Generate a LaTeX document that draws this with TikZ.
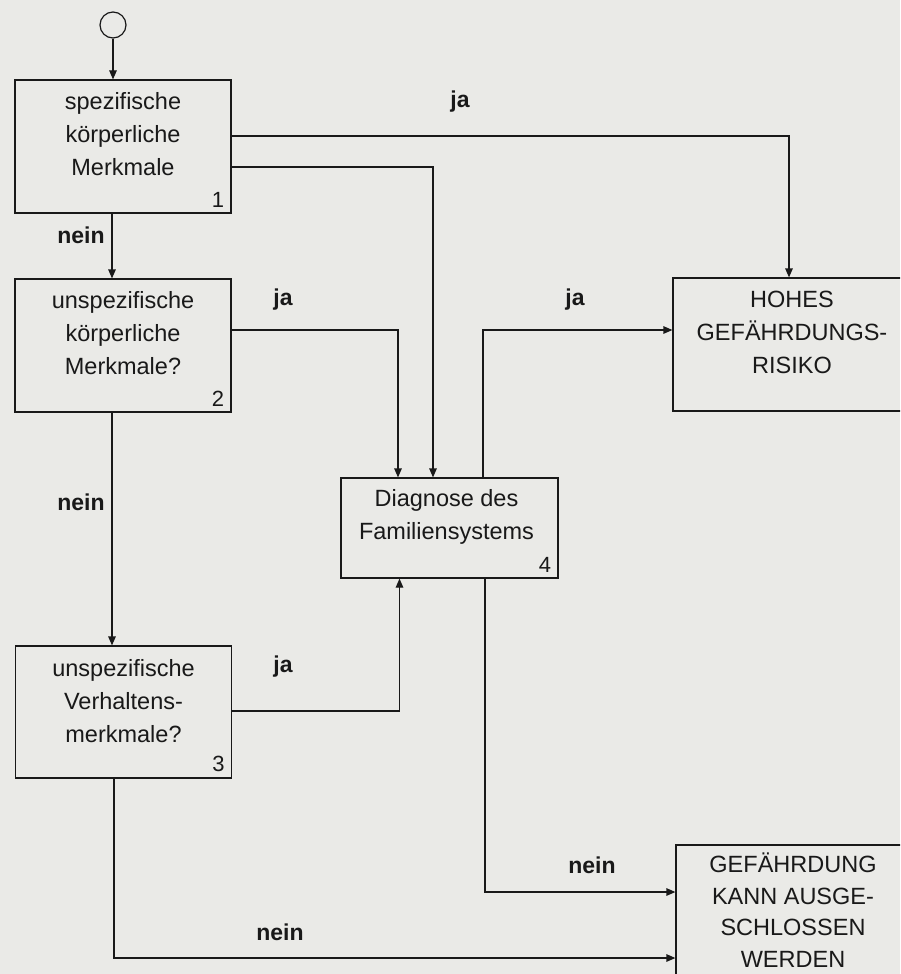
\documentclass[tikz,border=0pt]{standalone}
\usepackage{fontspec}
\setmainfont{Liberation Sans}
\usetikzlibrary{arrows.meta, positioning, calc}
\definecolor{paperGray}{RGB}{234,234,231}
\definecolor{inkBlack}{gray}{0.1}

\begin{document}
\begin{tikzpicture}[x=1pt, y=-1pt, line width=1.2pt, draw=inkBlack,
    kasten/.style={draw, minimum width=216pt, minimum height=133pt, inner sep=0pt},
    kastenText/.style={align=center, font=\fontsize{23.5}{33}\selectfont, text=inkBlack},
    nummer/.style={font=\fontsize{22}{22}\selectfont, anchor=south east, inner sep=0pt, text=inkBlack},
    antwort/.style={font=\fontsize{23}{23}\selectfont\bfseries, text=inkBlack},
    pfeil/.style={-{Triangle[length=9pt, width=7.5pt]}}]
    \useasboundingbox (0,0) rectangle (900,974);
    \clip (0,0) rectangle (900,974);
    \fill[paperGray] (0,0) rectangle (900,974);

    % Kaesten
    \node[draw, circle, minimum size=26pt, inner sep=0pt] (start) at (113,25) {};
    \node[kasten] (k1) at (123,146.5) {};
    \node[kasten] (k2) at (123,345.5) {};
    \node[kasten, minimum height=132pt] (k3) at (123.5,712) {};
    \node[kasten, minimum width=217pt, minimum height=100pt] (diag) at (449.5,528) {};
    \node[kasten, minimum width=238pt] (hohes) at (792,344.5) {};
    \node[kasten, minimum width=234pt, minimum height=150pt] (gef) at (793,920) {};

    \node[kastenText] (k1t) at ([yshift=12pt]k1.center) {spezifische\\körperliche\\Merkmale};
    \node[kastenText] (k2t) at ([yshift=12pt]k2.center) {unspezifische\\körperliche\\Merkmale?};
    \node[kastenText] (k3t) at ([yshift=11pt]k3.center) {unspezifische\\Verhaltens-\\merkmale?};
    \node[kastenText] (diagt) at ([xshift=-3pt, yshift=11.5pt]diag.center) {Diagnose des\\Familiensystems};
    \node[kastenText] (hohest) at ([yshift=12.5pt]hohes.center) {HOHES\\GEFÄHRDUNGS-\\RISIKO};
    \node[kastenText, font=\fontsize{23.5}{31.5}\selectfont] (geft) at ([yshift=10pt]gef.center) {GEFÄHRDUNG\\KANN AUSGE-\\SCHLOSSEN\\WERDEN};

    \node[nummer] (n1) at ([xshift=-7pt, yshift=6pt]k1.south east) {1};
    \node[nummer] (n2) at ([xshift=-7pt, yshift=6pt]k2.south east) {2};
    \node[nummer] (n3) at ([xshift=-7pt, yshift=6pt]k3.south east) {3};
    \node[nummer] (n4) at ([xshift=-7pt, yshift=6pt]diag.south east) {4};

    % Verbindungen
    \draw[pfeil] (start.south) -- (start.south |- k1.north);
    \draw[pfeil] ([xshift=-11pt]k1.south) -- ([xshift=-11pt]k2.north);
    \draw[pfeil] ([xshift=-11pt]k2.south) -- ([xshift=-11.5pt]k3.north);
    \draw[pfeil] ([yshift=10.5pt]k1.east) -| ([xshift=-3pt]hohes.north);
    \draw[pfeil] ([yshift=-20.5pt]k1.east) -| ([xshift=-16.5pt]diag.north);
    \draw[pfeil] ([yshift=15.5pt]k2.east) -| ([xshift=-51.5pt]diag.north);
    \draw[pfeil] ([yshift=1pt]k3.east) -| ([xshift=-50pt]diag.south);
    \draw[pfeil] ([xshift=33.5pt]diag.north) |- ([yshift=14.5pt]hohes.west);
    \draw[pfeil] ([xshift=35.5pt]diag.south) |- ([yshift=28pt]gef.west);
    \draw[pfeil] ([xshift=-9.5pt]k3.south) |- ([yshift=-38pt]gef.west);

    % Antworten
    \node[antwort] (ja1) at (460,102) {ja};
    \node[antwort] (ja2) at (283,300) {ja};
    \node[antwort] (ja3) at (575,300) {ja};
    \node[antwort] (ja4) at (283,667) {ja};
    \node[antwort] (nein1) at (81,235) {nein};
    \node[antwort] (nein2) at (81,502) {nein};
    \node[antwort] (nein3) at (592,865) {nein};
    \node[antwort] (nein4) at (280,932) {nein};
\end{tikzpicture}
\end{document}
